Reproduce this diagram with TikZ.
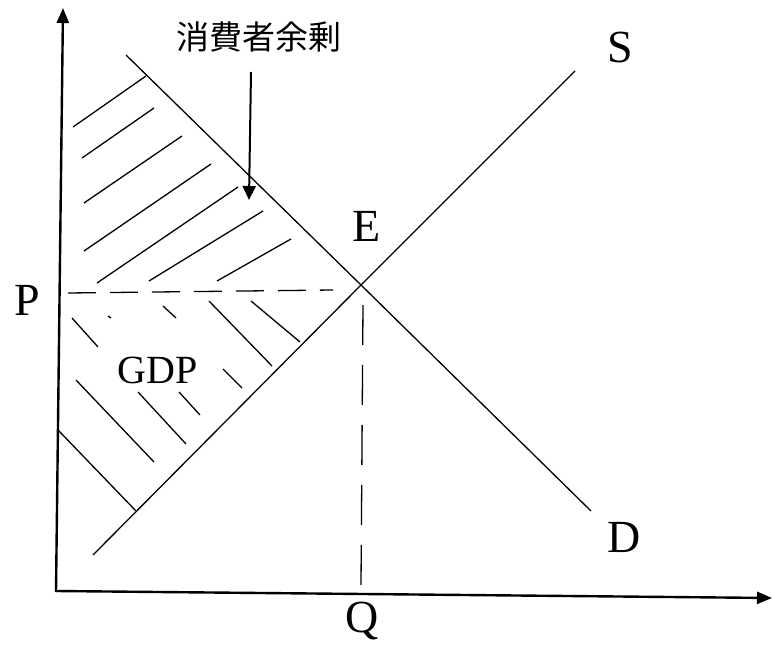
\documentclass[tikz,border=0pt]{standalone}
\usepackage{fontspec}
\setmainfont{Liberation Serif}
\newfontfamily\cjk{Noto Sans CJK JP}
\usetikzlibrary{positioning, arrows.meta}

\begin{document}
\begin{tikzpicture}[
    x=1pt, y=-1pt,
    axis/.style={line width=2.4pt, -{Triangle[length=15pt, width=12pt]}},
    curve/.style={line width=1.3pt},
    hguide/.style={line width=1.3pt, dash pattern=on 28pt off 14pt},
    vguide/.style={line width=1.3pt, dash pattern=on 40pt off 20pt},
    hatch/.style={line width=1.3pt},
    lbl/.style={font=\fontsize{46}{48}\selectfont, inner sep=0pt},
    pointer/.style={line width=2pt, -{Triangle[length=14pt, width=13pt]}},
  ]
    \useasboundingbox (0,0) rectangle (772,650);

    % axes
    \coordinate (O) at (56,592);
    \coordinate (ytip) at (63,8);
    \coordinate (xtip) at (772,598);
    \draw[axis] (O) -- (ytip);
    \draw[axis] ([yshift=1pt]O) -- (xtip);

    % demand and supply
    \coordinate (E) at (361,285);
    \coordinate (Dtop) at (126,55);
    \coordinate (Dend) at (591,511);
    \coordinate (Sbot) at (93,555);
    \coordinate (Stop) at (575,71);
    \draw[curve] (Dtop) -- (E) -- (Dend);
    \draw[curve] (Sbot) -- (E) -- (Stop);

    % guides to the axes
    \coordinate (Pstart) at (68,293);
    \coordinate (Pend) at (333,290);
    \coordinate (Qtop) at (363,305);
    \coordinate (Qbot) at (361,585);
    \draw[hguide] (Pstart) -- (Pend);
    \draw[vguide] (Qtop) -- (Qbot);

    % hatching
    \foreach \xa/\ya/\xb/\yb in {73/127/146/76, 82/158/154/108, 84/203/182/136,
        84/251/211/164, 97/283/238/187, 149/281/263/211, 217/281/291/239}
      \draw[hatch] (\xa,\ya) -- (\xb,\yb);
    \foreach \xa/\ya/\xb/\yb in {72/318/98/347, 108/316/111/318, 163/306/176/318,
        209/301/272/366, 251/301/300/342, 76/380/154/462, 138/392/186/444,
        179/392/200/415, 223/369/242/388, 58/430/136/511}
      \draw[hatch] (\xa,\ya) -- (\xb,\yb);

    % labels
    \node[lbl] (P) at (27,300) {P};
    \node[lbl] (Elbl) at (367,226) {E};
    \node[lbl] (S) at (620,47) {S};
    \node[lbl] (D) at (624,537) {D};
    \node[lbl] (Q) at (362,621) {Q};
    \node[lbl, font=\fontsize{40}{42}\selectfont] (GDP) at (158,370) {GDP};
    \node[inner sep=0pt, font=\cjk\fontsize{33}{35}\selectfont] (cs) at (259,37) {消費者余剰};

    \coordinate (arrtop) at (251,72);
    \coordinate (arrtip) at (249,200);
    \draw[pointer] (arrtop) -- (arrtip);
  \end{tikzpicture}
\end{document}
